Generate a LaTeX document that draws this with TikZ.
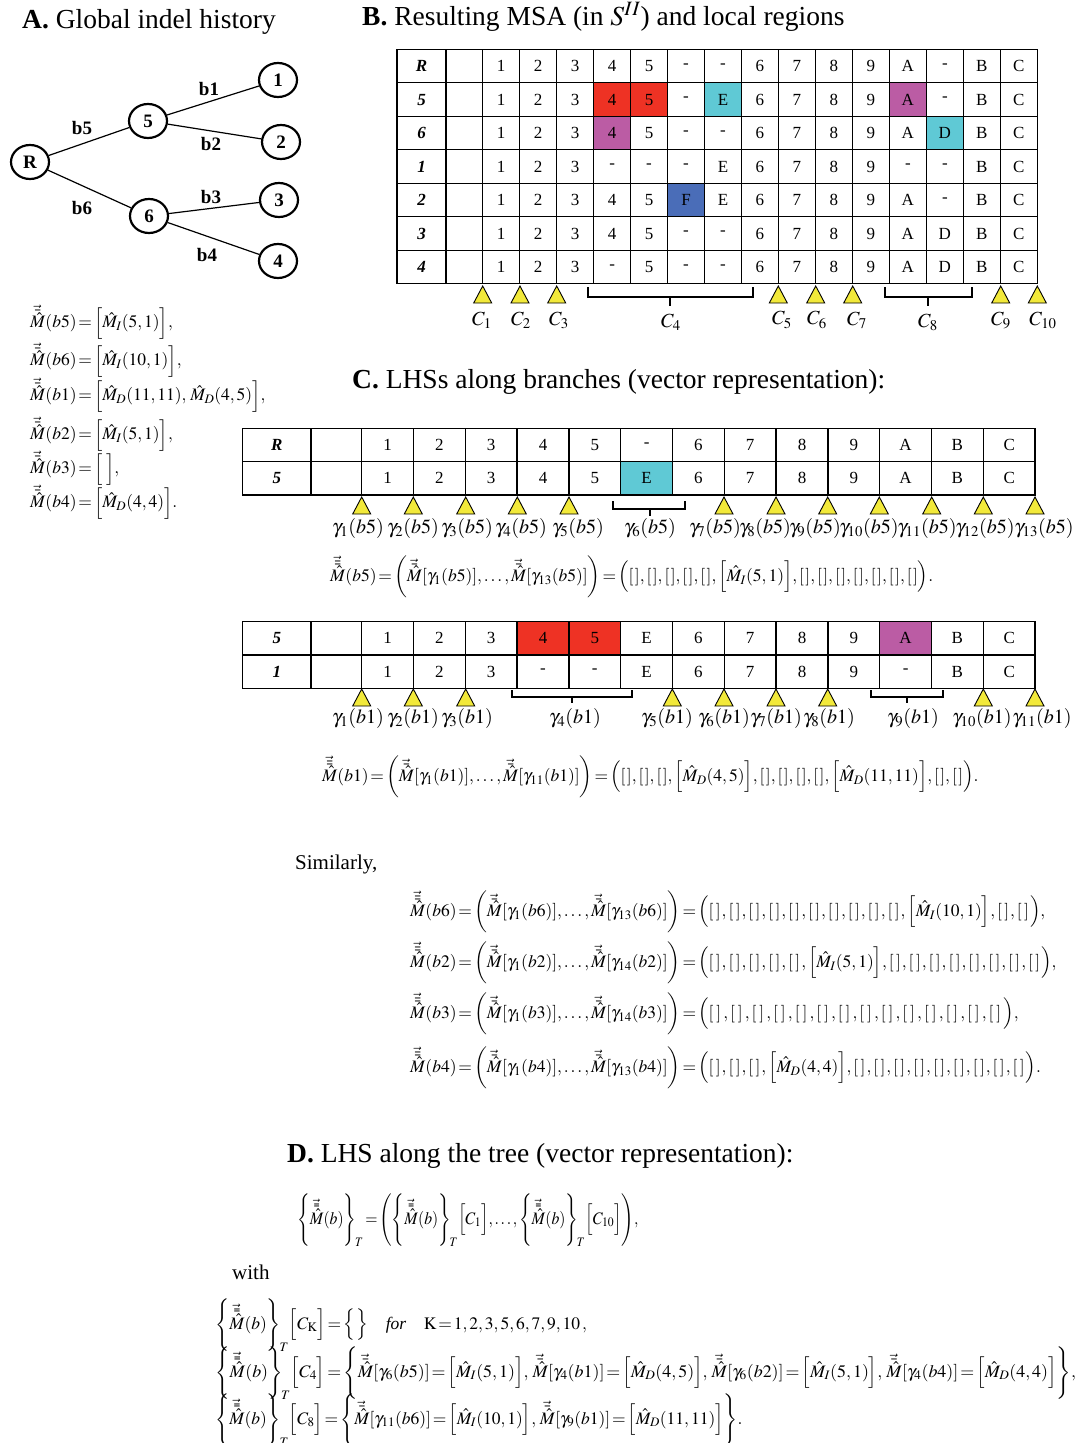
\documentclass[tikz,border=0pt]{standalone}
\usepackage{mathptmx}
\usepackage[no-math]{fontspec}
\setmainfont{Liberation Serif}
\usetikzlibrary{shapes.geometric}

\definecolor{cred}{HTML}{EE3224}
\definecolor{ccyan}{HTML}{5FC9D5}
\definecolor{cmag}{HTML}{BB5CA4}
\definecolor{cblue}{HTML}{4A6DB8}
\definecolor{tyel}{HTML}{F2E93A}

% indel-history vectors
\newcommand\Mv{\vec{\bar{\hat{M}}}}
\newcommand\Mvv{\vec{\bar{\bar{\hat{M}}}}}
\newcommand\MI[1]{\hat{M}_I(#1)}
\newcommand\MD[1]{\hat{M}_D(#1)}
\newcommand\LHS{\Biggl\{\Mvv(b)\Biggr\}_{\!T}}
\newcommand\Ev{[\mkern1.5mu]}
\newcommand\Ew{[\mkern2.5mu]\mkern1mu}
\newcommand\Ex{[\mkern3mu]\mkern2.2mu}
\newcommand\tightmath{\thickmuskip=2mu\relax\medmuskip=1.5mu\relax}

\begin{document}
\begin{tikzpicture}[x=1pt,y=-1pt,
  title/.style={anchor=base west, inner sep=0pt, font=\fontsize{27.5}{32}\selectfont},
  tnode/.style={ellipse, draw, line width=2.2pt, minimum width=38pt, minimum height=34pt,
    inner sep=0pt, font=\fontsize{19}{22}\selectfont\bfseries},
  edge/.style={line width=1.2pt},
  blab/.style={inner sep=0pt, font=\fontsize{19}{22}\selectfont\bfseries},
  cell/.style={inner sep=0pt, font=\fontsize{17}{20}\selectfont},
  rowlab/.style={inner sep=0pt, font=\fontsize{17}{20}\selectfont\bfseries\itshape},
  grid/.style={line width=1.3pt},
  brk/.style={line width=2pt},
  clab/.style={inner sep=0pt, font=\fontsize{20}{24}\selectfont},
  eq/.style={anchor=west, inner sep=0pt, font=\fontsize{17.5}{21}\selectfont,
    execute at begin node=\tightmath},
  txt/.style={anchor=base west, inner sep=0pt, font=\fontsize{21}{25}\selectfont},
  ymark/.pic={\draw[line width=0.9pt, fill=tyel] (0,0) -- (-9,17) -- (9,17) -- cycle;}
]
\useasboundingbox (0,0) rectangle (1077,1443);

% ---------------- A: tree ----------------
\node[title] (tA) at (22,28) {\textbf{A.} Global indel history};
\node[tnode] (nR) at (30,162) {R};
\node[tnode] (n5) at (148,121) {5};
\node[tnode] (n6) at (149,216) {6};
\node[tnode] (n1) at (278,80) {1};
\node[tnode] (n2) at (281,142) {2};
\node[tnode] (n3) at (279,200) {3};
\node[tnode] (n4) at (278,261) {4};
\draw[edge] (nR) -- (n5);
\draw[edge] (nR) -- (n6);
\draw[edge] (n5) -- (n1);
\draw[edge] (n5) -- (n2);
\draw[edge] (n6) -- (n3);
\draw[edge] (n6) -- (n4);
\node[blab] (lb5) at (82,128) {b5};
\node[blab] (lb6) at (82,208) {b6};
\node[blab] (lb1) at (209,89) {b1};
\node[blab] (lb2) at (211,144) {b2};
\node[blab] (lb3) at (211,197) {b3};
\node[blab] (lb4) at (207,255) {b4};

\node[eq] (eA5) at (30,322) {$\Mv(b5)=\Bigl[\MI{5,1}\Bigr],$};
\node[eq] (eA6) at (30,360) {$\Mv(b6)=\Bigl[\MI{10,1}\Bigr],$};
\node[eq] (eA1) at (30,395) {$\Mv(b1)=\Bigl[\MD{11,11},\,\MD{4,5}\Bigr],$};
\node[eq] (eA2) at (30,434) {$\Mv(b2)=\Bigl[\MI{5,1}\Bigr],$};
\node[eq] (eA3) at (30,468) {$\Mv(b3)=\Bigl[\;\;\Bigr],$};
\node[eq] (eA4) at (30,502) {$\Mv(b4)=\Bigl[\MD{4,4}\Bigr].$};

% ---------------- B: MSA ----------------
\node[title] (tB) at (362,25) {\textbf{B.} Resulting MSA (in $S^{II}$) and local regions};
\begin{scope}[shift={(482.7,49.3)},x=36.97pt,y=-33.5pt]
  \fill[cred] (3,1) rectangle (5,2);
  \fill[ccyan] (6,1) rectangle (7,2);
  \fill[cmag] (11,1) rectangle (12,2);
  \fill[cmag] (3,2) rectangle (4,3);
  \fill[ccyan] (12,2) rectangle (13,3);
  \fill[cblue] (5,4) rectangle (6,5);
  \foreach \lab/\row [count=\r from 0] in {
      R/{1,2,3,4,5,-,-,6,7,8,9,A,-,B,C},
      5/{1,2,3,4,5,-,E,6,7,8,9,A,-,B,C},
      6/{1,2,3,4,5,-,-,6,7,8,9,A,D,B,C},
      1/{1,2,3,-,-,-,E,6,7,8,9,-,-,B,C},
      2/{1,2,3,4,5,F,E,6,7,8,9,A,-,B,C},
      3/{1,2,3,4,5,-,-,6,7,8,9,A,D,B,C},
      4/{1,2,3,-,5,-,-,6,7,8,9,A,D,B,C}}{
    \node[rowlab] (bl-\r) at (-1.655,\r+0.5) {\lab};
    \foreach \v [count=\c] in \row {
      \node[cell] (b-\r-\c) at (\c-0.5,\r+0.5) {\v};
    }
  }
  \draw[grid] (-2.318,0) rectangle (15,7);
  \foreach \r in {1,...,6} \draw[grid] (-2.318,\r) -- (15,\r);
  \draw[grid] (-0.993,0) -- (-0.993,7);
  \foreach \c in {0,...,14} \draw[grid] (\c,0) -- (\c,7);
\end{scope}
% column markers
\foreach \x in {482.7,520,556.7,778.3,815.7,852.7,1000.7,1037.3}
  \pic at (\x,286) {ymark};
\draw[brk] (588,287) -- (588,297) -- (753,297) -- (753,287);
\draw[brk] (670,297) -- (670,306);
\draw[brk] (885,287) -- (885,297) -- (972,297) -- (972,287);
\draw[brk] (928,297) -- (928,306);
\node[clab] (C1) at (482,320) {$C_1$};
\node[clab] (C2) at (521,320) {$C_2$};
\node[clab] (C3) at (559,320) {$C_3$};
\node[clab] (C4) at (671,322) {$C_4$};
\node[clab] (C5) at (782,320) {$C_5$};
\node[clab] (C6) at (817,320) {$C_6$};
\node[clab] (C7) at (857,320) {$C_7$};
\node[clab] (C8) at (928,322) {$C_8$};
\node[clab] (C9) at (1001,320) {$C_9$};
\node[clab] (C10) at (1043,320) {$C_{10}$};

% ---------------- C: LHSs along branches ----------------
\node[title] (tC) at (352,388) {\textbf{C.} LHSs along branches (vector representation):};

% branch b5
\begin{scope}[shift={(361.7,428.3)},x=51.8pt,y=-33.35pt]
  \fill[ccyan] (5,1) rectangle (6,2);
  \foreach \lab/\row [count=\r from 0] in {
      R/{1,2,3,4,5,-,6,7,8,9,A,B,C},
      5/{1,2,3,4,5,E,6,7,8,9,A,B,C}}{
    \node[rowlab] (cl-\r) at (-1.638,\r+0.5) {\lab};
    \foreach \v [count=\c] in \row {
      \node[cell] (c-\r-\c) at (\c-0.5,\r+0.5) {\v};
    }
  }
  \draw[grid] (-2.297,0) rectangle (13,2);
  \draw[grid] (-2.297,1) -- (13,1);
  \draw[grid] (-0.979,0) -- (-0.979,2);
  \foreach \c in {0,...,12} \draw[grid] (\c,0) -- (\c,2);
\end{scope}
\foreach \x in {361.7,413.3,465.7,517.3,569,724,776,827.7,879.3,931.7,983.3,1035}
  \pic at (\x,497) {ymark};
\draw[brk] (613,501) -- (613,509) -- (685,509) -- (685,501);
\draw[brk] (650,509) -- (650,516);
\node[clab] (g1) at (358,528) {$\gamma_1(b5)$};
\node[clab] (g2) at (413,528) {$\gamma_2(b5)$};
\node[clab] (g3) at (467,528) {$\gamma_3(b5)$};
\node[clab] (g4) at (521,528) {$\gamma_4(b5)$};
\node[clab] (g5) at (578,528) {$\gamma_5(b5)$};
\node[clab] (g6) at (650,528) {$\gamma_6(b5)$};
\node[clab] (g7) at (715,528) {$\gamma_7(b5)$};
\node[clab] (g8) at (765,528) {$\gamma_8(b5)$};
\node[clab] (g9) at (815,528) {$\gamma_9(b5)$};
\node[clab] (g10) at (869,528) {$\gamma_{10}(b5)$};
\node[clab] (g11) at (927,528) {$\gamma_{11}(b5)$};
\node[clab] (g12) at (985,528) {$\gamma_{12}(b5)$};
\node[clab] (g13) at (1044,528) {$\gamma_{13}(b5)$};
\node[eq] (eC5) at (330,577) {$\Mvv(b5)=\biggl(\Mv[\gamma_1(b5)],\ldots,\Mv[\gamma_{13}(b5)]\biggr)=\Bigl(\Ev,\Ev,\Ev,\Ev,\Ev,\Bigl[\MI{5,1}\Bigr],\Ev,\Ev,\Ev,\Ev,\Ev,\Ev,\Ev\Bigr).$};

% branch b1
\begin{scope}[shift={(361.7,621.7)},x=51.8pt,y=-33.3pt]
  \fill[cred] (3,0) rectangle (5,1);
  \fill[cmag] (10,0) rectangle (11,1);
  \foreach \lab/\row [count=\r from 0] in {
      5/{1,2,3,4,5,E,6,7,8,9,A,B,C},
      1/{1,2,3,-,-,E,6,7,8,9,-,B,C}}{
    \node[rowlab] (dl-\r) at (-1.638,\r+0.5) {\lab};
    \foreach \v [count=\c] in \row {
      \node[cell] (d-\r-\c) at (\c-0.5,\r+0.5) {\v};
    }
  }
  \draw[grid] (-2.297,0) rectangle (13,2);
  \draw[grid] (-2.297,1) -- (13,1);
  \draw[grid] (-0.979,0) -- (-0.979,2);
  \foreach \c in {0,...,12} \draw[grid] (\c,0) -- (\c,2);
\end{scope}
\foreach \x in {361.7,413.3,465.7,672.3,724,776,827.7,983.3,1035}
  \pic at (\x,689) {ymark};
\draw[brk] (511.7,690) -- (511.7,697) -- (631.7,697) -- (631.7,690);
\draw[brk] (571.7,697) -- (571.7,703);
\draw[brk] (871,690) -- (871,697) -- (943.3,697) -- (943.3,690);
\draw[brk] (906.7,697) -- (906.7,703);
\node[clab] (h1) at (358,718) {$\gamma_1(b1)$};
\node[clab] (h2) at (413,718) {$\gamma_2(b1)$};
\node[clab] (h3) at (467,718) {$\gamma_3(b1)$};
\node[clab] (h4) at (575,718) {$\gamma_4(b1)$};
\node[clab] (h5) at (667,718) {$\gamma_5(b1)$};
\node[clab] (h6) at (724,718) {$\gamma_6(b1)$};
\node[clab] (h7) at (776,718) {$\gamma_7(b1)$};
\node[clab] (h8) at (829,718) {$\gamma_8(b1)$};
\node[clab] (h9) at (913,718) {$\gamma_9(b1)$};
\node[clab] (h10) at (982,718) {$\gamma_{10}(b1)$};
\node[clab] (h11) at (1042,718) {$\gamma_{11}(b1)$};
\node[eq] (eC1) at (322,777) {$\Mvv(b1)=\biggl(\Mv[\gamma_1(b1)],\ldots,\Mv[\gamma_{11}(b1)]\biggr)=\Bigl(\Ev,\Ev,\Ev,\Bigl[\MD{4,5}\Bigr],\Ev,\Ev,\Ev,\Ev,\Bigl[\MD{11,11}\Bigr],\Ev,\Ev\Bigr).$};

% remaining branches
\node[txt] (sim) at (295,869) {Similarly,};
\node[eq] (eC6) at (410,912) {$\Mvv(b6)=\biggl(\Mv[\gamma_1(b6)],\ldots,\Mv[\gamma_{13}(b6)]\biggr)=\Bigl(\Ew,\Ew,\Ew,\Ew,\Ew,\Ew,\Ew,\Ew,\Ew,\Ew,\Bigl[\MI{10,1}\Bigr],\Ew,\Ew\Bigr),$};
\node[eq] (eC2) at (410,963) {$\Mvv(b2)=\biggl(\Mv[\gamma_1(b2)],\ldots,\Mv[\gamma_{14}(b2)]\biggr)=\Bigl(\Ew,\Ew,\Ew,\Ew,\Ew,\Bigl[\MI{5,1}\Bigr],\Ew,\Ew,\Ew,\Ew,\Ew,\Ew,\Ew,\Ew\Bigr),$};
\node[eq] (eC3) at (410,1014) {$\Mvv(b3)=\biggl(\Mv[\gamma_1(b3)],\ldots,\Mv[\gamma_{14}(b3)]\biggr)=\Bigl(\Ex,\Ex,\Ex,\Ex,\Ex,\Ex,\Ex,\Ex,\Ex,\Ex,\Ex,\Ex,\Ex,\Ex\Bigr),$};
\node[eq] (eC4) at (410,1068) {$\Mvv(b4)=\biggl(\Mv[\gamma_1(b4)],\ldots,\Mv[\gamma_{13}(b4)]\biggr)=\Bigl(\Ew,\Ew,\Ew,\Bigl[\MD{4,4}\Bigr],\Ew,\Ew,\Ew,\Ew,\Ew,\Ew,\Ew,\Ew,\Ew\Bigr).$};

% ---------------- D: LHS along the tree ----------------
\node[title] (tD) at (287,1162) {\textbf{D.} LHS along the tree (vector representation):};
\node[eq] (eD0) at (297,1220) {\scalebox{0.9}[1]{$\LHS=\Biggl(\LHS\Bigl[C_1\Bigr],\ldots,\LHS\Bigl[C_{10}\Bigr]\Biggr),$}};
\node[txt] (with) at (232,1279) {with};
\node[eq] (eD1) at (215,1325) {$\LHS\Bigl[C_{\mathrm{K}}\Bigr]=\Bigl\{\;\Bigr\}\quad\textit{for}\quad \mathrm{K}=1,2,3,5,6,7,9,10\,,$};
\node[eq] (eD2) at (215,1373) {\scalebox{1.025}[1]{$\LHS\Bigl[C_4\Bigr]=\Biggl\{\Mv[\gamma_6(b5)]=\Bigl[\MI{5,1}\Bigr],\;\Mv[\gamma_4(b1)]=\Bigl[\MD{4,5}\Bigr],\;\Mv[\gamma_6(b2)]=\Bigl[\MI{5,1}\Bigr],\;\Mv[\gamma_4(b4)]=\Bigl[\MD{4,4}\Bigr]\Biggr\},$}};
\node[eq] (eD3) at (215,1420) {$\LHS\Bigl[C_8\Bigr]=\Biggl\{\Mv[\gamma_{11}(b6)]=\Bigl[\MI{10,1}\Bigr],\;\Mv[\gamma_9(b1)]=\Bigl[\MD{11,11}\Bigr]\Biggr\}.$};
\end{tikzpicture}
\end{document}
